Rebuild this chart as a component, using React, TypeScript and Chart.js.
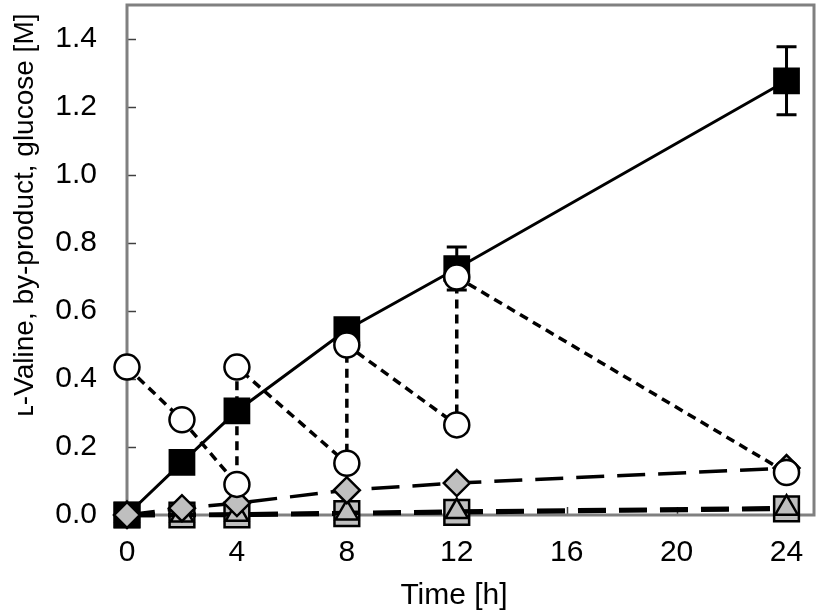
import React, { useEffect, useRef } from "react";
import { Chart, registerables } from "chart.js";

Chart.register(...registerables);

// ---- data ----
const timeValine = [0, 2, 4, 8, 12, 24];
const valine = [0, 0.155, 0.306, 0.545, 0.725, 1.277];
const valineErr = [0, 0, 0, 0, 0.063, 0.1];

const timeGlucose = [0, 2, 4, 4, 8, 8, 12, 12, 24];
const glucose = [0.435, 0.28, 0.09, 0.435, 0.152, 0.5, 0.265, 0.7, 0.125];

const timeBy = [0, 2, 4, 8, 12, 24];
const byproductDiamond = [0, 0.02, 0.035, 0.073, 0.094, 0.138];
const byproductTriangle = [0, 0, 0.002, 0.006, 0.01, 0.02];
const byproductSquare = [0, 0, 0, 0.004, 0.008, 0.018];

const xTicks = [0, 4, 8, 12, 16, 20, 24];
const yTicks = [0, 0.2, 0.4, 0.6, 0.8, 1.0, 1.2, 1.4];

const xTitle = "Time [h]";
const yTitle = "ʟ-Valine, by-product, glucose [M]";

const FONT = "'Liberation Sans', Arial, 'DejaVu Sans', sans-serif";
const GRAY = "#bfbfbf";

const toXY = (xs: number[], ys: number[]) => xs.map((x, i) => ({ x, y: ys[i] }));

const zeroPad = (s: any) => {
  s.paddingTop = 0;
  s.paddingBottom = 0;
  s.paddingLeft = 0;
  s.paddingRight = 0;
};

const framePlugin = {
  id: "frameAndExtras",
  beforeDatasetsDraw(chart: any) {
    const { ctx, chartArea, scales } = chart;
    const { left, right, top, bottom } = chartArea;
    const x = scales.x;
    const y = scales.y;
    ctx.save();
    // inner ticks
    ctx.strokeStyle = "#404040";
    ctx.lineWidth = 1.5;
    yTicks.forEach((v) => {
      const py = Math.round(y.getPixelForValue(v)) + 0.5;
      ctx.beginPath();
      ctx.moveTo(left, py);
      ctx.lineTo(left + 9, py);
      ctx.stroke();
    });
    xTicks.forEach((v) => {
      const px = Math.round(x.getPixelForValue(v)) + 0.5;
      ctx.beginPath();
      ctx.moveTo(px, bottom);
      ctx.lineTo(px, bottom - 8);
      ctx.stroke();
    });
    // frame
    ctx.strokeStyle = "#808080";
    ctx.lineWidth = 3;
    ctx.strokeRect(left, top, right - left, bottom - top);
    // error bars
    ctx.strokeStyle = "#000";
    ctx.lineWidth = 3;
    timeValine.forEach((t, i) => {
      const e = valineErr[i];
      if (!e) return;
      const px = x.getPixelForValue(t);
      const pHi = y.getPixelForValue(valine[i] + e);
      const pLo = y.getPixelForValue(valine[i] - e);
      ctx.beginPath();
      ctx.moveTo(px, pHi);
      ctx.lineTo(px, pLo);
      ctx.moveTo(px - 10, pHi);
      ctx.lineTo(px + 10, pHi);
      ctx.moveTo(px - 10, pLo);
      ctx.lineTo(px + 10, pLo);
      ctx.stroke();
    });
    ctx.restore();
  },
  afterDraw(chart: any) {
    const { ctx } = chart;
    ctx.save();
    ctx.fillStyle = "#000";
    ctx.textAlign = "center";
    ctx.textBaseline = "middle";
    ctx.font = `30px ${FONT}`;
    ctx.fillText(xTitle, 454, 596);
    ctx.translate(25, 215);
    ctx.rotate(-Math.PI / 2);
    ctx.font = `28px ${FONT}`;
    ctx.fillText(yTitle, 0, 0);
    ctx.restore();
  },
};

export default function App() {
  const ref = useRef<HTMLCanvasElement | null>(null);

  useEffect(() => {
    if (!ref.current) return;
    const chart = new Chart(ref.current, {
      type: "line",
      data: {
        datasets: [
          {
            label: "Glucose",
            data: toXY(timeGlucose, glucose),
            borderColor: "#000",
            borderWidth: 3.5,
            borderDash: [9, 6],
            pointStyle: "circle",
            pointRadius: 12.5,
            pointBorderWidth: 2.5,
            pointBackgroundColor: "#fff",
            pointBorderColor: "#000",
            clip: false,
          },
          {
            label: "By-product (diamond)",
            data: toXY(timeBy, byproductDiamond),
            borderColor: "#000",
            borderWidth: 3.5,
            borderDash: [28, 13],
            pointStyle: "rectRot",
            pointRadius: 13,
            pointBorderWidth: 2.5,
            pointBackgroundColor: GRAY,
            pointBorderColor: "#000",
            clip: false,
          },
          {
            label: "By-product (triangle)",
            data: toXY(timeBy, byproductTriangle),
            borderColor: "#000",
            borderWidth: 4.5,
            borderDash: [28, 13],
            pointStyle: "triangle",
            pointRadius: 13,
            pointBorderWidth: 2.5,
            pointBackgroundColor: GRAY,
            pointBorderColor: "#000",
            clip: false,
          },
          {
            label: "L-Valine",
            data: toXY(timeValine, valine),
            borderColor: "#000",
            borderWidth: 3,
            pointStyle: "rect",
            pointRadius: 17.5,
            pointBorderWidth: 2,
            pointBackgroundColor: "#000",
            pointBorderColor: "#000",
            clip: false,
          },
          {
            label: "By-product (square)",
            data: toXY(timeBy, byproductSquare),
            borderColor: "#000",
            borderWidth: 4.5,
            borderDash: [28, 13],
            pointStyle: "rect",
            pointRadius: 17.5,
            pointBorderWidth: 2.5,
            pointBackgroundColor: GRAY,
            pointBorderColor: "#000",
            clip: false,
          },
        ],
      },
      options: {
        animation: false,
        responsive: false,
        devicePixelRatio: 1,
        layout: { autoPadding: false, padding: { top: 5, right: 6, left: 0, bottom: 0 } },
        plugins: {
          legend: { display: false },
          tooltip: { enabled: false },
          title: { display: false },
        },
        elements: { line: { tension: 0 } },
        scales: {
          x: {
            type: "linear",
            min: 0,
            max: 25,
            afterBuildTicks: (s: any) => {
              s.ticks = xTicks.map((v) => ({ value: v }));
            },
            afterFit: (s: any) => {
              s.height = 101;
              zeroPad(s);
            },
            grid: { display: false, drawTicks: false },
            border: { display: false },
            ticks: {
              color: "#000",
              font: { size: 30, family: FONT },
              padding: 20,
              maxRotation: 0,
              autoSkip: false,
              callback: (v: any) => String(v),
            },
          },
          y: {
            type: "linear",
            min: 0,
            max: 1.5,
            afterBuildTicks: (s: any) => {
              s.ticks = yTicks.map((v) => ({ value: v }));
            },
            afterFit: (s: any) => {
              s.width = 127;
              zeroPad(s);
            },
            grid: { display: false, drawTicks: false },
            border: { display: false },
            ticks: {
              color: "#000",
              font: { size: 30, family: FONT },
              padding: 30,
              autoSkip: false,
              callback: (v: any) => Number(v).toFixed(1),
            },
          },
        },
      },
      plugins: [framePlugin],
    });
    return () => chart.destroy();
  }, []);

  return (
    <div style={{ position: "fixed", left: 0, top: 0, width: 820, height: 616, background: "#fff" }}>
      <canvas ref={ref} width={820} height={616} style={{ width: 820, height: 616 }} />
    </div>
  );
}
